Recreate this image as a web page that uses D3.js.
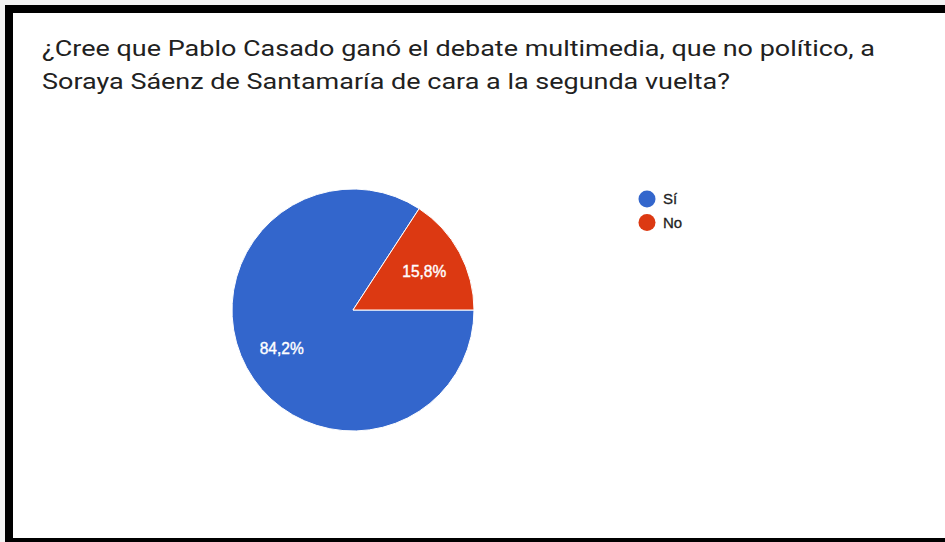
<!DOCTYPE html>
<html>
<head>
<meta charset="utf-8">
<script src="https://cdn.jsdelivr.net/npm/d3@7"></script>
<style>
  html, body { margin: 0; padding: 0; background: #fff; }
</style>
</head>
<body>
<div id="chart"></div>
<script>
// datos del gráfico
var titleLines = [
  "¿Cree que Pablo Casado ganó el debate multimedia, que no político, a",
  "Soraya Sáenz de Santamaría de cara a la segunda vuelta?"
]
var titleWidths = [833, 688]
var categories = ["Sí", "No"]
var values = [84.2, 15.8]
var colors = ["#3366cc", "#dc3912"]

var width = 945
var height = 542

var svg = d3.select("#chart")
  .append("svg")
    .attr("width", width)
    .attr("height", height)
    .style("display", "block")

// marco negro (captura de pantalla)
svg.append("rect").attr("x", 0).attr("y", 0).attr("width", width).attr("height", height).attr("fill", "#f4f4f4")
svg.append("rect").attr("x", 5).attr("y", 5).attr("width", width - 5).attr("height", height - 5).attr("fill", "#000")
svg.append("rect").attr("x", 13).attr("y", 13).attr("width", width - 13).attr("height", height - 13 - 4).attr("fill", "#fff")

// título (la captura está algo estirada en horizontal)
svg.append("g").selectAll("text")
  .data(titleLines)
  .enter()
  .append("text")
    .attr("x", 42)
    .attr("y", function(d, i) { return 56 + i * 33 })
    .attr("textLength", function(d, i) { return titleWidths[i] })
    .attr("lengthAdjust", "spacingAndGlyphs")
    .style("font-family", "Roboto, Arial, sans-serif")
    .style("font-size", "22px")
    .style("fill", "#212121")
    .text(function(d) { return d })

// tarta
var radius = 121
var g = svg.append("g").attr("transform", "translate(353,310)")

var pie = d3.pie()
  .sort(null)
  .startAngle(Math.PI / 2)
  .endAngle(Math.PI / 2 + 2 * Math.PI)
  .value(function(d) { return d.value })

var data_ready = pie(categories.map(function(c, i) { return { key: c, value: values[i] } }))

var color = d3.scaleOrdinal().domain(categories).range(colors)

var arc = d3.arc().innerRadius(0).outerRadius(radius)
var labelArc = d3.arc().innerRadius(radius * 0.67).outerRadius(radius * 0.67)

g.selectAll("path")
  .data(data_ready)
  .enter()
  .append("path")
    .attr("d", arc)
    .attr("fill", function(d) { return color(d.data.key) })
    .attr("stroke", "#fff")
    .style("stroke-width", "1px")

g.selectAll("text")
  .data(data_ready)
  .enter()
  .append("text")
    .attr("transform", function(d) { return "translate(" + labelArc.centroid(d) + ")" })
    .attr("text-anchor", "middle")
    .attr("dy", "0.35em")
    .attr("textLength", 44)
    .attr("lengthAdjust", "spacingAndGlyphs")
    .style("font-family", "Arial, 'Liberation Sans', sans-serif")
    .style("font-size", "16px")
    .style("fill", "#fff")
    .style("stroke", "#fff")
    .style("stroke-width", "0.4px")
    .text(function(d) { return d3.format(".1f")(d.data.value).replace(".", ",") + "%" })

// leyenda
var legend = svg.selectAll(".legend")
  .data(categories)
  .enter()
  .append("g")
    .attr("class", "legend")
    .attr("transform", function(d, i) { return "translate(647," + (199 + i * 23.5) + ")" })

legend.append("circle")
  .attr("r", 8.5)
  .attr("fill", function(d) { return color(d) })

legend.append("text")
  .attr("x", 16)
  .attr("dy", "0.35em")
  .style("font-family", "Arial, 'Liberation Sans', sans-serif")
  .style("font-size", "15px")
  .style("fill", "#222")
  .style("stroke", "#222")
  .style("stroke-width", "0.3px")
  .text(function(d) { return d })
</script>
</body>
</html>
